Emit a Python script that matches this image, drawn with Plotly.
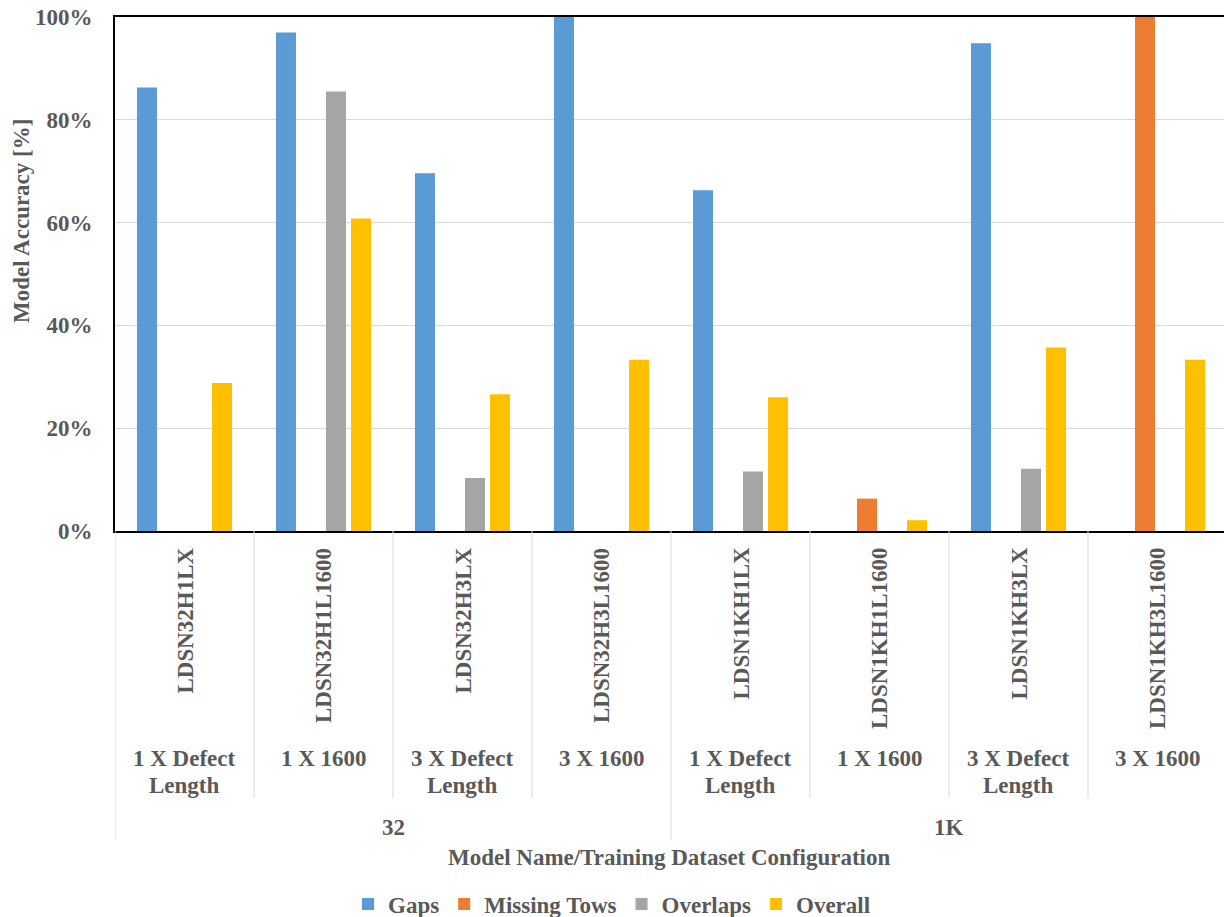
import plotly.graph_objects as go

# ---------------- data ----------------
categories = ["LDSN32H1LX", "LDSN32H1L1600", "LDSN32H3LX", "LDSN32H3L1600",
              "LDSN1KH1LX", "LDSN1KH1L1600", "LDSN1KH3LX", "LDSN1KH3L1600"]
configs = ["1 X Defect<br>Length", "1 X 1600", "3 X Defect<br>Length", "3 X 1600",
           "1 X Defect<br>Length", "1 X 1600", "3 X Defect<br>Length", "3 X 1600"]
datasets = ["32", "1K"]
dataset_sizes = [4, 4]

series_names = ["Gaps", "Missing Tows", "Overlaps", "Overall"]
gaps = [86.3, 97.0, 69.6, 100.0, 66.3, 0.0, 94.9, 0.0]
missing_tows = [0.0, 0.0, 0.0, 0.0, 0.0, 6.3, 0.0, 100.0]
overlaps = [0.0, 85.5, 10.3, 0.0, 11.6, 0.0, 12.1, 0.0]
overall = [28.8, 60.8, 26.6, 33.3, 26.0, 2.1, 35.7, 33.3]
y_ticks = [0, 20, 40, 60, 80, 100]

colors = ["#5B9BD5", "#ED7D31", "#A5A5A5", "#FFC000"]

# ---------------- layout constants ----------------
W, H = 1224, 917
T, L, R = 17, 115, 0
PLOT_BOTTOM = 531
B = H - PLOT_BOTTOM
PH = H - T - B
FONT = "Liberation Serif, Times New Roman, serif"
TXT = "#595959"
GRID = "#D9D9D9"


def py(px):
    """pixel row -> paper y"""
    return (PLOT_BOTTOM - px) / PH


xs = list(range(len(categories)))
fig = go.Figure()
for name, vals, c in zip(series_names, [gaps, missing_tows, overlaps, overall], colors):
    fig.add_trace(go.Bar(x=xs, y=vals, name=f"<b>{name}</b>",
                         marker=dict(color=c, line=dict(width=0))))

annotations = []
# model names (rotated)
for i, nm in enumerate(categories):
    annotations.append(dict(x=i, xref="x", y=py(546), yref="paper", text=f"<b>{nm}</b>",
                            textangle=-90, showarrow=False, yanchor="top", xanchor="center",
                            font=dict(family=FONT, size=23, color=TXT)))
# configuration labels (one annotation per text line for tighter line spacing)
for i, cf in enumerate(configs):
    for j, line in enumerate(cf.split("<br>")):
        annotations.append(dict(x=i, xref="x", y=py(758 + 27 * j), yref="paper",
                                text=f"<b>{line}</b>", showarrow=False, yanchor="middle",
                                xanchor="center", font=dict(family=FONT, size=23, color=TXT)))
# dataset group labels
start = 0
for ds, n in zip(datasets, dataset_sizes):
    annotations.append(dict(x=start + (n - 1) / 2, xref="x", y=py(827), yref="paper",
                            text=f"<b>{ds}</b>", showarrow=False, yanchor="middle",
                            font=dict(family=FONT, size=23, color=TXT)))
    start += n
# axis titles
annotations.append(dict(x=0.5, xref="paper", y=py(857), yref="paper",
                        text="<b>Model Name/Training Dataset Configuration</b>", showarrow=False,
                        yanchor="middle", font=dict(family=FONT, size=23, color=TXT)))
annotations.append(dict(x=(21 - L) / (W - L - R), xref="paper", y=py(221), yref="paper",
                        text="<b>Model Accuracy [%]</b>", textangle=-90, showarrow=False,
                        xanchor="center", yanchor="middle",
                        font=dict(family=FONT, size=23, color=TXT)))

shapes = []
# category separators
bounds = [0]
for n in dataset_sizes:
    bounds.append(bounds[-1] + n)
for k in range(len(categories) + 1):
    outer = k in bounds
    shapes.append(dict(type="line", xref="x", yref="paper", x0=k - 0.5, x1=k - 0.5,
                       y0=0, y1=py(840 if outer else 798),
                       line=dict(color=GRID, width=1)))

fig.update_layout(
    width=W, height=H,
    margin=dict(l=L, r=R, t=T, b=B, pad=0, autoexpand=False),
    paper_bgcolor="white", plot_bgcolor="white",
    barmode="group", bargap=0.28, bargroupgap=0.2,
    font=dict(family=FONT, size=23, color=TXT),
    xaxis=dict(range=[-0.5, -0.5 + (W - L - R) / 139.0], showticklabels=False, ticks="",
               showgrid=False, zeroline=False, showline=True, linecolor="black",
               linewidth=2, mirror=True, fixedrange=True),
    yaxis=dict(range=[0, 100], tickvals=y_ticks, ticktext=[f"<b>{v}%</b>" for v in y_ticks],
               showgrid=True, gridcolor=GRID, gridwidth=1, zeroline=False,
               showline=True, linecolor="black", linewidth=2, ticks="",
               ticklabelstandoff=16, tickfont=dict(family=FONT, size=23, color=TXT)),
    legend=dict(orientation="h", x=(612 - L) / (W - L - R), xanchor="center",
                y=py(904), yanchor="middle", font=dict(family=FONT, size=23, color=TXT),
                itemwidth=30, tracegroupgap=0),
    annotations=annotations,
    shapes=shapes,
    showlegend=True,
)

fig.write_html("out.html")
